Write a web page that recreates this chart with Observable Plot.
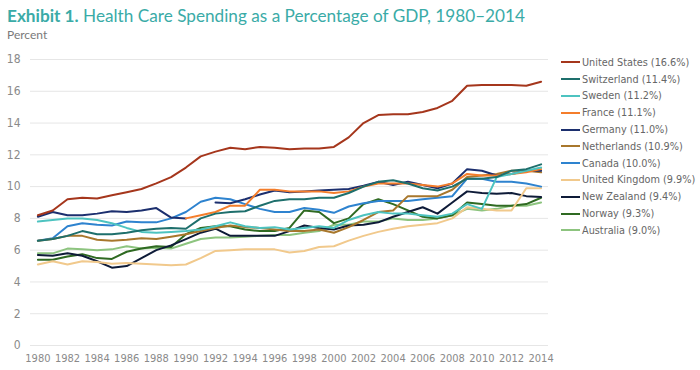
<!DOCTYPE html>
<html><head><meta charset="utf-8">
<script src="https://cdn.jsdelivr.net/npm/d3@7"></script>
<script src="https://cdn.jsdelivr.net/npm/@observablehq/plot@0.6"></script>
<style>
body{margin:0;background:#fff;width:700px;height:370px;overflow:hidden;position:relative;font-family:"DejaVu Sans Condensed","DejaVu Sans",sans-serif;}
#title{position:absolute;left:7px;top:5px;font-family:Lato,sans-serif;font-size:17.2px;color:#3aaba7;white-space:nowrap;}
#title b{font-weight:700}
#sub{position:absolute;left:7px;top:27px;font-family:Lato,sans-serif;font-size:12px;color:#7a7a7a;}
#chart{position:absolute;left:0;top:44px;}
#legend{position:absolute;left:561px;top:54px;font-size:10.8px;color:#666;}
.row{height:16.8px;display:flex;align-items:center;white-space:nowrap;}
.sw{width:19px;height:2px;margin-right:2px;}
</style>
</head><body>
<div id="title"><b>Exhibit 1.</b> Health Care Spending as a Percentage of GDP, 1980–2014</div>
<div id="sub">Percent</div>
<div id="chart"></div>
<div id="legend"></div>
<script>
const years = [1980,1981,1982,1983,1984,1985,1986,1987,1988,1989,1990,1991,1992,1993,1994,1995,1996,1997,1998,1999,2000,2001,2002,2003,2004,2005,2006,2007,2008,2009,2010,2011,2012,2013,2014];
const xTicks = [1980,1982,1984,1986,1988,1990,1992,1994,1996,1998,2000,2002,2004,2006,2008,2010,2012,2014];
const yTicks = [0,2,4,6,8,10,12,14,16,18];

const countries = ["United States","Switzerland","Sweden","France","Germany","Netherlands","Canada","United Kingdom","New Zealand","Norway","Australia"];
const legendLabels = ["United States (16.6%)","Switzerland (11.4%)","Sweden (11.2%)","France (11.1%)","Germany (11.0%)","Netherlands (10.9%)","Canada (10.0%)","United Kingdom (9.9%)","New Zealand (9.4%)","Norway (9.3%)","Australia (9.0%)"];
const colors = ["#a5361c","#1e6f6c","#4dc3c0","#f47d2b","#1c2f6e","#a8772c","#2e83cf","#f1c98c","#0e1b38","#2f6a22","#8dc47f"];

const unitedStates = [8.2,8.5,9.2,9.3,9.25,9.45,9.65,9.85,10.2,10.6,11.2,11.9,12.2,12.45,12.35,12.5,12.45,12.35,12.4,12.4,12.5,13.1,14.0,14.5,14.55,14.55,14.7,14.95,15.4,16.35,16.4,16.4,16.4,16.35,16.6];
const switzerland = [6.6,6.7,6.9,7.2,7.0,7.0,7.1,7.25,7.35,7.4,7.35,8.0,8.3,8.4,8.45,8.8,9.1,9.2,9.2,9.3,9.3,9.6,10.0,10.3,10.4,10.2,9.9,9.75,10.0,10.5,10.5,10.6,11.0,11.1,11.4];
const sweden = [7.8,7.9,8.0,8.0,7.9,7.7,7.4,7.15,7.1,7.15,7.2,7.3,7.5,7.75,7.5,7.4,7.45,7.3,7.4,7.5,7.4,7.9,8.2,8.4,8.3,8.3,8.2,8.1,8.3,8.9,8.6,10.6,10.8,11.0,11.2];
const france = [null,null,null,null,null,null,null,null,null,null,8.0,8.2,8.4,8.8,8.8,9.8,9.8,9.7,9.7,9.7,9.6,9.7,10.0,10.2,10.2,10.2,10.1,10.0,10.2,10.8,10.7,10.7,10.8,10.9,11.1];
const germany = [8.1,8.4,8.2,8.2,8.3,8.45,8.4,8.5,8.65,8.05,8.0,null,9.0,8.95,9.2,9.5,9.75,9.65,9.7,9.75,9.8,9.85,10.05,10.3,10.1,10.3,10.1,9.9,10.2,11.1,11.0,10.7,10.8,11.0,11.0];
const netherlands = [6.6,6.7,6.9,6.9,6.65,6.6,6.65,6.75,6.7,6.85,7.0,7.2,7.4,7.55,7.45,7.4,7.3,7.2,7.2,7.3,7.1,7.45,7.9,8.4,8.5,9.4,9.4,9.4,9.8,10.6,10.7,10.8,11.0,11.0,10.9];
const canada = [6.6,6.75,7.5,7.7,7.6,7.55,7.8,7.75,7.75,8.0,8.4,9.05,9.3,9.2,8.9,8.6,8.4,8.4,8.65,8.55,8.35,8.75,8.95,9.1,9.1,9.1,9.2,9.3,9.4,10.5,10.5,10.3,10.3,10.2,10.0];
const unitedKingdom = [5.1,5.3,5.1,5.3,5.25,5.15,5.2,5.15,5.1,5.05,5.1,5.5,5.95,6.0,6.05,6.05,6.05,5.85,5.95,6.2,6.25,6.6,6.9,7.15,7.35,7.5,7.6,7.7,8.0,8.7,8.6,8.5,8.5,9.9,9.9];
const newZealand = [5.7,5.65,5.8,5.65,5.3,4.9,5.0,5.5,6.0,6.3,6.7,7.1,7.35,6.9,6.9,6.9,6.9,7.2,7.55,7.4,7.3,7.55,7.6,7.75,8.1,8.4,8.7,8.3,9.0,9.7,9.6,9.55,9.6,9.4,9.35];
const norway = [5.4,5.4,5.6,5.75,5.5,5.45,5.9,6.1,6.25,6.2,7.0,7.4,7.5,7.5,7.3,7.2,7.2,7.4,8.5,8.4,7.7,8.0,8.9,9.2,8.9,8.5,8.1,8.0,8.2,9.0,8.9,8.8,8.8,8.9,9.3];
const australia = [5.8,5.8,6.1,6.05,6.0,6.05,6.25,6.1,6.15,6.1,6.4,6.7,6.8,6.8,6.85,6.9,6.95,6.95,7.1,7.2,7.6,7.6,7.8,7.8,8.0,7.9,7.9,8.0,8.2,8.6,8.5,8.6,8.8,8.8,9.0];

const series = [unitedStates,switzerland,sweden,france,germany,netherlands,canada,unitedKingdom,newZealand,norway,australia];

const rows = [];
for (let i = countries.length - 1; i >= 0; i--) {
  years.forEach((yr, j) => rows.push({country: countries[i], year: yr, value: series[i][j]}));
}

const chart = Plot.plot({
  width: 700, height: 326,
  marginLeft: 30, marginRight: 152, marginTop: 15, marginBottom: 25,
  style: {fontFamily: '"DejaVu Sans Condensed","DejaVu Sans",sans-serif', fontSize: "11px", color: "#8a8a8a", background: "#fff"},
  x: {domain: [1979.5, 2014.5], ticks: xTicks, tickFormat: d => String(d), tickSize: 0, tickPadding: 9, label: null},
  y: {domain: [0, 18], ticks: yTicks, tickSize: 0, tickPadding: 10, label: null},
  color: {domain: countries, range: colors},
  marks: [
    Plot.ruleY(yTicks, {stroke: "#e6e6e6", strokeWidth: 1}),
    Plot.axisX({ticks: xTicks, tickFormat: d => String(d), tickSize: 0, tickPadding: 9, label: null, fontSize: 11}),
    Plot.axisY({ticks: yTicks, tickSize: 0, tickPadding: 10, label: null, fontSize: 12}),
    Plot.line(rows, {x: "year", y: "value", z: "country", stroke: "country", strokeWidth: 2, curve: "linear"})
  ]
});
document.getElementById("chart").appendChild(chart);

const lg = document.getElementById("legend");
countries.forEach((c, i) => {
  const r = document.createElement("div"); r.className = "row";
  const s = document.createElement("div"); s.className = "sw"; s.style.background = colors[i];
  const t = document.createElement("span"); t.textContent = legendLabels[i];
  r.appendChild(s); r.appendChild(t); lg.appendChild(r);
});
</script>
</body></html>
